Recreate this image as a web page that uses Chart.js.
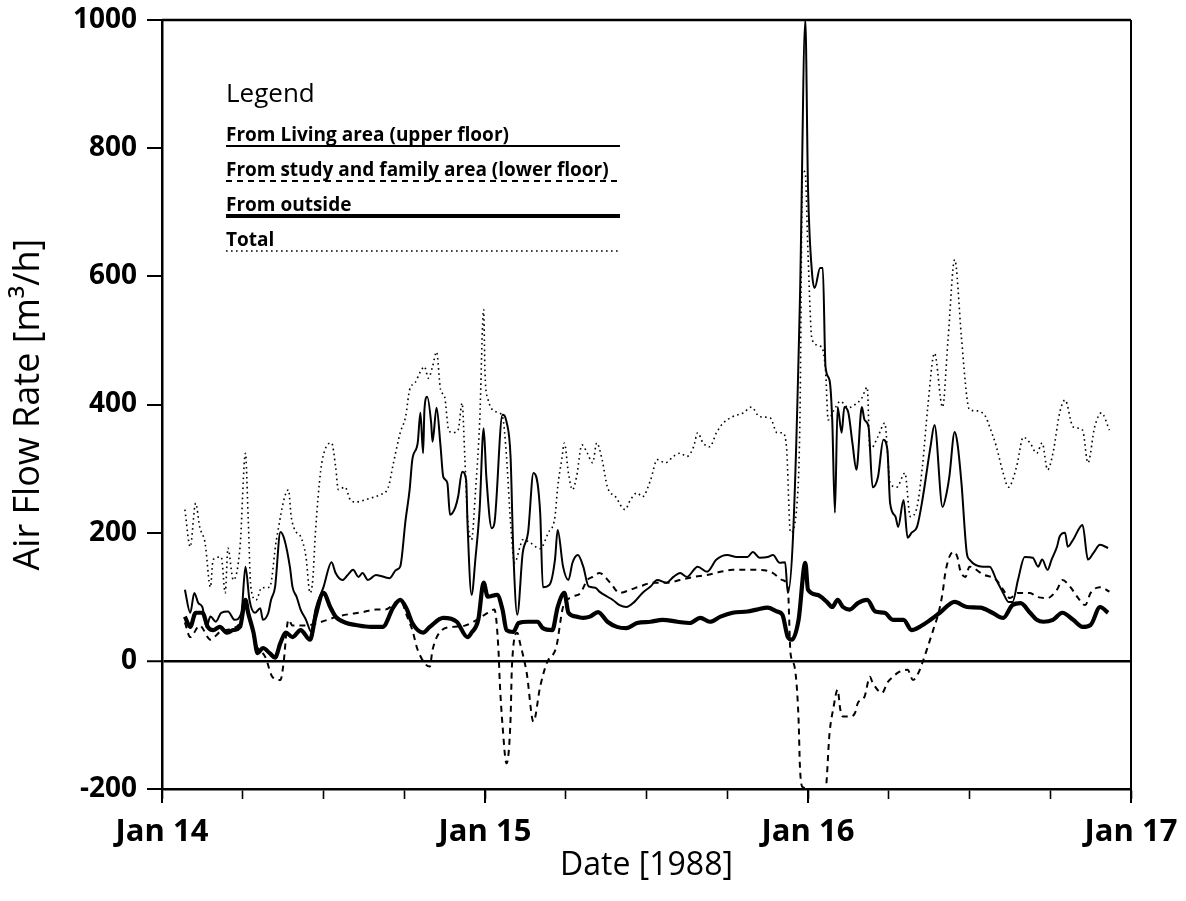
<!DOCTYPE html>
<html>
<head>
<meta charset="utf-8">
<script src="https://cdn.jsdelivr.net/npm/chart.js@4.4.1/dist/chart.umd.min.js"></script>
<style>
html,body{margin:0;padding:0;background:#fff;}
#wrap{width:1186px;height:901px;}
</style>
</head>
<body>
<div id="wrap"><canvas id="c" width="1186" height="901"></canvas></div>
<script>
// ---- data (hours after Jan 14 00:00, air flow in m3/h) ----
const dayLabels = ['Jan 14', 'Jan 15', 'Jan 16', 'Jan 17'];
const yTickValues = [-200, 0, 200, 400, 600, 800, 1000];
const seriesNames = ['From Living area (upper floor)', 'From study and family area (lower floor)', 'From outside', 'Total'];

const livingHours = [1.7,2.1,2.4,2.7,3.0,3.3,3.6,4.0,4.4,4.9,5.4,5.9,6.2,6.5,6.9,7.3,7.5,7.9,8.1,8.4,8.8,9.1,9.5,9.7,10.0,10.3,10.7,11.1,11.4,12.0,12.6,12.9,13.4,13.8,14.2,14.6,14.9,15.3,15.9,16.9,17.4,17.7,18.1,18.4,18.6,19.0,19.2,19.4,19.5,19.7,20.0,20.1,20.4,20.7,20.9,21.2,21.4,21.8,22.0,22.3,22.6,22.7,23.0,23.3,23.6,23.9,24.1,24.5,24.7,25.3,25.6,25.9,26.1,26.4,26.8,27.2,27.6,28.1,28.3,28.8,29.2,29.4,29.8,30.2,30.5,30.9,31.3,31.7,32.2,32.5,33.1,33.5,34.0,34.5,35.1,35.7,36.3,36.8,37.5,38.0,38.5,39.0,39.8,40.5,41.2,42.0,42.7,43.5,43.9,44.4,45.0,45.4,45.9,46.3,46.5,46.9,47.4,47.8,48.0,48.3,48.5,48.9,49.1,49.3,49.6,49.8,50.0,50.2,50.5,50.7,51.0,51.3,51.6,52.0,52.2,52.5,52.8,53.2,53.6,53.9,54.1,54.5,54.7,55.1,55.4,55.7,56.1,56.5,57.1,57.4,58.0,58.3,58.5,58.9,59.1,59.4,59.8,60.0,61.0,61.5,62.0,62.5,62.9,63.2,63.6,64.1,64.7,65.1,65.4,65.8,66.1,66.5,66.7,67.1,67.3,67.7,68.4,68.8,69.2,69.7,70.3];
const livingFlow = [111,75,106,90,84,53,69,61,75,77,64,75,147,95,75,82,64,75,95,115,201,189,147,115,100,80,64,45,80,115,154,137,126,134,142,131,137,126,134,129,142,147,220,267,314,340,387,324,392,412,371,342,395,334,287,278,228,240,256,295,282,215,103,162,236,363,287,207,215,384,373,318,173,72,168,200,293,231,115,119,158,204,147,126,153,165,147,116,114,108,100,95,87,84,92,106,116,126,122,131,137,131,147,139,158,165,162,162,170,161,162,165,153,154,106,200,563,1000,739,605,582,613,613,459,438,376,231,396,356,396,387,340,298,396,376,365,271,287,345,329,246,225,209,251,192,200,209,251,334,368,240,262,287,357,340,278,168,158,147,147,126,106,92,92,126,162,161,147,158,142,158,178,194,200,178,189,212,158,168,181,176];

const studyHours = [1.7,2.1,2.8,3.6,4.3,5.1,5.8,6.2,6.5,6.9,7.7,8.2,8.8,9.0,9.4,9.7,10.3,10.7,11.7,13.2,14.9,15.9,16.6,17.7,18.2,18.6,19.0,19.9,20.1,20.8,21.6,22.5,23.4,24.2,24.7,25.0,25.1,25.3,25.6,25.9,26.0,26.4,26.6,27.1,27.6,28.1,28.6,29.3,29.8,30.5,31.1,31.6,32.0,32.5,33.3,34.0,34.8,35.5,36.5,37.5,38.5,39.5,40.5,41.5,42.4,43.5,44.4,45.4,46.1,46.5,46.7,47.0,47.3,47.4,47.6,48.4,49.3,49.6,49.9,50.2,50.4,50.6,51.1,51.5,51.7,52.2,52.6,52.8,53.5,53.9,54.3,54.8,55.4,55.8,56.2,56.5,56.9,57.3,57.7,58.0,58.2,58.5,58.8,59.1,59.3,59.7,60.0,61.0,62.0,62.5,63.0,63.6,64.5,65.0,65.8,66.5,66.9,67.5,68.0,68.6,69.0,69.7,70.4];
const studyFlow = [60,37,55,33,45,50,60,95,70,30,5,-25,-30,-9,64,55,55,55,60,70,76,80,80,95,70,48,17,-9,17,48,53,55,64,75,80,17,-34,-100,-160,-90,-9,44,28,-19,-95,-40,-3,22,84,100,106,126,131,137,122,106,111,116,122,122,126,131,134,139,142,142,142,137,126,115,12,-9,-92,-165,-197,-200,-200,-113,-72,-45,-76,-87,-87,-81,-66,-56,-25,-34,-50,-34,-25,-17,-14,-30,-19,-3,22,48,75,106,137,162,170,162,142,131,147,135,126,111,98,106,106,100,98,111,126,115,100,87,106,115,108];

const outsideHours = [1.7,2.1,2.5,3.0,3.4,3.8,4.3,4.8,5.3,5.8,6.2,6.4,6.8,7.1,7.5,8.0,8.4,8.8,9.2,9.7,10.3,11.0,11.4,12.0,12.5,12.9,13.7,14.4,15.5,16.4,17.2,17.7,18.2,18.6,19.4,19.9,20.9,21.9,22.7,23.0,23.5,23.9,24.2,24.9,25.3,25.6,26.1,26.5,27.2,27.9,28.3,29.0,29.4,29.9,30.2,30.8,31.3,31.8,32.4,33.1,33.8,34.5,35.3,36.3,37.2,38.3,39.2,40.0,40.7,41.5,42.4,43.5,44.2,45.0,45.7,46.1,46.5,46.8,47.3,47.8,48.0,48.7,49.4,49.8,50.2,50.6,51.1,51.7,52.4,53.0,53.7,54.3,55.1,55.7,56.3,57.1,57.8,58.9,59.8,60.8,61.7,62.5,63.2,63.8,64.5,65.0,65.5,66.2,66.9,67.7,68.4,69.0,69.7,70.3];
const outsideFlow = [69,53,75,75,53,48,53,44,48,53,95,75,44,12,20,12,5,28,44,37,48,33,69,106,84,69,59,56,53,53,84,95,80,59,44,53,67,61,37,44,64,122,100,103,80,48,45,59,61,61,51,48,84,106,75,69,67,69,76,61,53,51,59,61,64,61,59,67,61,69,75,77,80,83,77,72,37,33,64,153,111,103,92,84,95,84,80,90,95,77,75,64,64,48,53,64,75,92,84,83,75,67,87,90,75,64,61,64,75,64,53,56,84,75];

const totalHours = [1.7,2.1,2.5,2.8,3.2,3.6,3.8,4.4,4.7,4.9,5.3,5.8,6.2,6.4,6.6,7.0,7.4,8.0,8.5,9.4,9.6,10.0,10.3,10.7,11.0,11.2,11.4,11.8,12.2,12.6,12.9,13.1,13.6,14.0,14.4,15.5,16.2,16.8,17.2,17.7,18.1,18.4,18.8,19.2,19.5,19.8,20.1,20.4,20.7,21.0,21.3,21.6,22.0,22.3,22.5,22.7,23.0,23.3,23.6,23.9,24.0,24.2,24.9,25.3,25.6,25.9,26.2,26.6,26.8,27.3,28.1,28.7,29.2,29.4,29.7,29.9,30.2,30.5,30.8,31.2,31.6,32.0,32.3,32.7,33.1,33.7,34.4,34.8,35.3,35.7,36.3,36.8,37.4,38.0,38.5,39.0,39.5,39.8,40.2,40.7,41.2,41.7,42.4,43.2,43.8,44.4,45.2,45.7,46.1,46.4,46.7,47.2,47.4,47.6,47.8,48.0,48.3,49.0,49.3,49.5,49.9,50.4,51.0,51.5,52.0,52.4,52.6,53.2,53.7,54.1,54.6,55.2,55.6,56.1,56.5,56.9,57.4,58.0,58.4,58.9,59.4,59.8,60.0,60.6,61.2,61.5,62.0,62.5,62.9,63.5,64.0,64.5,65.0,65.4,65.8,66.2,66.7,67.1,67.7,68.4,68.8,69.3,69.8,70.4];
const totalFlow = [236,178,246,209,184,115,158,162,106,176,126,178,324,225,115,95,114,115,189,267,225,200,194,162,106,126,200,298,334,340,303,267,271,251,248,254,259,270,309,356,381,423,434,451,459,441,459,482,423,412,360,356,360,402,318,225,189,267,371,548,449,410,388,381,318,215,153,178,189,185,175,200,225,271,314,340,293,267,287,337,324,309,340,314,271,256,236,251,262,256,282,314,309,319,324,319,334,356,340,334,356,371,381,387,396,381,379,356,356,334,200,250,376,766,760,636,501,490,454,376,390,405,395,400,410,427,329,350,371,278,271,293,225,240,303,396,480,396,500,626,505,412,392,390,381,365,334,293,271,303,349,340,324,340,298,324,387,407,365,360,309,365,387,360];

// ---- build ----
const pairs = (xs, ys) => xs.map((x, i) => ({x: x, y: ys[i]}));
const FONT = '"Open Sans", "DejaVu Sans", sans-serif';

const styles = {
  living:  {borderWidth: 2,   borderDash: []},
  study:   {borderWidth: 2,   borderDash: [6, 5]},
  outside: {borderWidth: 4.2, borderDash: []},
  total:   {borderWidth: 1.6, borderDash: [1.6, 3.4]}
};

const datasets = [
  Object.assign({label: seriesNames[3], data: pairs(totalHours, totalFlow)}, styles.total),
  Object.assign({label: seriesNames[1], data: pairs(studyHours, studyFlow)}, styles.study),
  Object.assign({label: seriesNames[0], data: pairs(livingHours, livingFlow)}, styles.living),
  Object.assign({label: seriesNames[2], data: pairs(outsideHours, outsideFlow)}, styles.outside)
].map(d => Object.assign(d, {
  borderColor: '#000', backgroundColor: '#000', pointRadius: 0, fill: false,
  cubicInterpolationMode: 'monotone', borderJoinStyle: 'round', borderCapStyle: 'butt'
}));

const paperDecor = {
  id: 'paperDecor',
  afterDraw(chart) {
    const {ctx, chartArea: a, scales} = chart;
    ctx.save();
    ctx.strokeStyle = '#000';
    // top and right frame
    ctx.lineWidth = 2.5;
    ctx.beginPath();
    ctx.moveTo(a.left, a.top); ctx.lineTo(a.right, a.top);
    ctx.stroke();
    ctx.lineWidth = 2;
    ctx.beginPath();
    ctx.moveTo(a.right, a.top); ctx.lineTo(a.right, a.bottom);
    ctx.stroke();
    // longer day ticks
    ctx.lineWidth = 2;
    for (let d = 0; d < dayLabels.length; d++) {
      const px = scales.x.getPixelForValue(d * 24);
      ctx.beginPath();
      ctx.moveTo(px, a.bottom); ctx.lineTo(px, a.bottom + 14);
      ctx.stroke();
    }
    // legend
    const x0 = a.left + 64, x1 = a.left + 458;
    ctx.fillStyle = '#000';
    ctx.textAlign = 'left';
    ctx.textBaseline = 'alphabetic';
    ctx.font = '26px ' + FONT;
    ctx.fillText('Legend', x0, a.top + 82);
    const order = [['living', 0], ['study', 1], ['outside', 2], ['total', 3]];
    order.forEach(([key, idx], i) => {
      const base = a.top + 121 + i * 35;
      ctx.font = 'bold 19px ' + FONT;
      ctx.fillText(seriesNames[idx], x0, base, x1 - x0);
      const st = styles[key];
      ctx.lineWidth = st.borderWidth;
      ctx.setLineDash(st.borderDash);
      ctx.lineCap = 'butt';
      ctx.beginPath();
      ctx.moveTo(x0, base + 5); ctx.lineTo(x1, base + 5);
      ctx.stroke();
      ctx.setLineDash([]);
    });
    ctx.restore();
  }
};

new Chart(document.getElementById('c'), {
  type: 'line',
  data: {datasets: datasets},
  options: {
    responsive: false,
    animation: false,
    devicePixelRatio: 1,
    layout: {padding: {top: 20, right: 55, left: 0, bottom: 0}},
    plugins: {legend: {display: false}, tooltip: {enabled: false}},
    scales: {
      x: {
        type: 'linear', min: 0, max: 72,
        afterFit: s => { s.height = 112; s.paddingLeft = 0; s.paddingRight = 0; },
        ticks: {
          stepSize: 6, autoSkip: false, maxRotation: 0, padding: 15, color: '#000',
          font: {family: FONT, size: 31, weight: 'bold'},
          callback: v => (v % 24 === 0 ? dayLabels[v / 24] : '')
        },
        grid: {drawOnChartArea: false, tickLength: 10, tickColor: '#000', tickWidth: 1.6},
        border: {display: true, color: '#000', width: 2.5},
        title: {display: true, text: 'Date [1988]', color: '#000',
          font: {family: FONT, size: 32, weight: '500'}, padding: {top: 0, bottom: 16}}
      },
      y: {
        min: -200, max: 1000,
        afterFit: s => { s.width = 162; s.paddingTop = 0; s.paddingBottom = 0; },
        afterBuildTicks: s => { s.ticks = yTickValues.map(v => ({value: v})); },
        ticks: {
          padding: 10, color: '#000',
          font: {family: FONT, size: 28, weight: 'bold'},
          callback: v => String(v)
        },
        grid: {
          drawOnChartArea: true, tickLength: 15, tickColor: '#000', tickWidth: 2,
          color: c => (c.tick && c.tick.value === 0 ? '#000' : 'rgba(0,0,0,0)'),
          lineWidth: c => (c.tick && c.tick.value === 0 ? 2.5 : 0)
        },
        border: {display: true, color: '#000', width: 2.5},
        title: {display: true, text: 'Air Flow Rate [m³/h]', color: '#000',
          font: {family: FONT, size: 36, weight: '500'}, padding: {top: 7, bottom: 0}}
      }
    }
  },
  plugins: [paperDecor]
});
</script>
</body>
</html>
